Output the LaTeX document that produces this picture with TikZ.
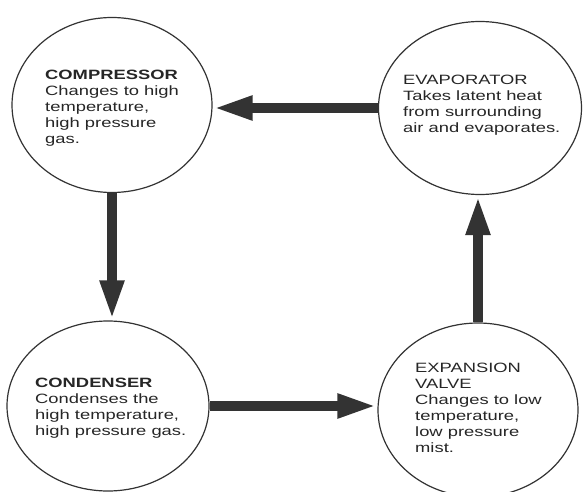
\documentclass[tikz,border=0pt]{standalone}
\usepackage{fontspec}
\setmainfont{Liberation Sans}[FakeStretch=1.36]
\usetikzlibrary{shapes.geometric, arrows.meta, positioning, calc}

\begin{document}
\begin{tikzpicture}[
    x=1pt, y=-1pt,
    circ/.style={ellipse, draw=black!80, line width=1.2pt, fill=white, inner sep=0pt},
    lbl/.style={anchor=north west, align=left, inner sep=0pt, font=\fontsize{13.5}{16}\selectfont, text=black!85},
    flow/.style={-{Triangle[width=22pt, length=40pt]}, line width=10pt, draw=black!80}
]
\clip (0,0) rectangle (584,492);
\fill[white] (0,0) rectangle (584,492);
\node[circ, minimum width=200pt, minimum height=175pt] (comp) at (112,105) {};
\node[circ, minimum width=203pt, minimum height=173pt] (evap) at (480,108) {};
\node[circ, minimum width=202pt, minimum height=170pt] (cond) at (108,406) {};
\node[circ, minimum width=200pt, minimum height=174pt] (expv) at (478,410) {};
\node[lbl] (comptext) at (45,70) {\textbf{COMPRESSOR}\\Changes to high\\temperature,\\high pressure\\gas.};
\node[lbl] (evaptext) at (403,75) {EVAPORATOR\\Takes latent heat\\from surrounding\\air and evaporates.};
\node[lbl] (condtext) at (35,378) {\textbf{CONDENSER}\\Condenses the\\high temperature,\\high pressure gas.};
\node[lbl] (expvtext) at (415,363) {EXPANSION\\VALVE\\Changes to low\\temperature,\\low pressure\\mist.};
\draw[flow] (evap.west) -- (evap.west -| comp.east);
\draw[flow] (comp.south) -- (comp.south |- cond.north);
\draw[flow] (cond.east) -- (cond.east -| expv.west);
\draw[flow] (expv.north) -- (expv.north |- evap.south);
\end{tikzpicture}
\end{document}
